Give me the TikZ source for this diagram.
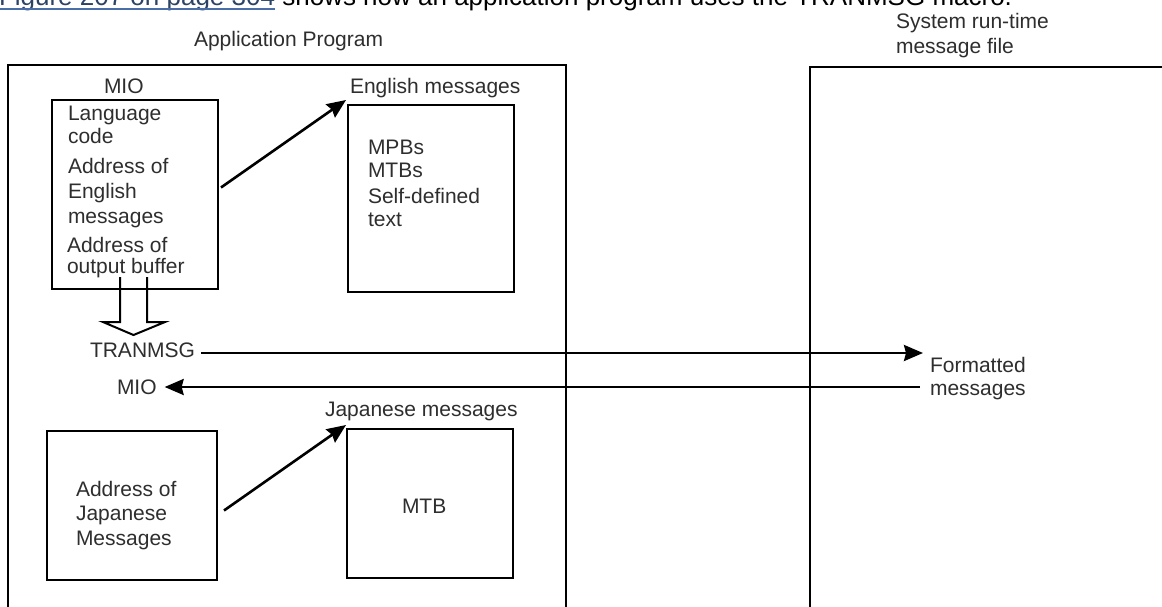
\documentclass[tikz,border=0pt]{standalone}
\usepackage{fontspec}
\setmainfont{Liberation Sans}
\usetikzlibrary{arrows.meta,calc}
\definecolor{linkblue}{HTML}{4A6FA8}
\begin{document}
\begin{tikzpicture}[x=1pt,y=-1pt,
  lbl/.style={inner sep=0pt, outer sep=0pt, anchor=base west, text=black!82, font=\fontsize{21}{25}\selectfont},
  box/.style={draw, line width=2.6pt, anchor=north west, inner sep=0pt, outer sep=0pt},
  arr/.style={line width=2.6pt, -{Stealth[length=19pt,width=16pt,inset=2pt]}},
  hollow/.style={line width=2pt, line join=miter},
  toptext/.style={inner sep=0pt, outer sep=0pt, anchor=base west, font=\fontsize{26}{30}\selectfont},
]
\useasboundingbox (0,0) rectangle (1162,606);
\clip (0,0) rectangle (1162,606);
\fill[white] (0,0) rectangle (1162,606);

% cut-off sentence at the top
\node[toptext, text=linkblue!60!black] (link) at (-1,5) {Figure 207 on page 304};
\node[toptext] (rest) at (link.base east) {\ shows how an application program uses the TRANMSG macro.};
\draw[linkblue, line width=1.5pt] ([yshift=-4pt]link.base west) -- ([yshift=-4pt]link.base east);

% titles
\node[lbl] (apptitle) at (194,46) {Application Program};
\node[lbl] (sys1) at (896,28) {System run-time};
\node[lbl] (sys2) at (896,53) {message file};

% boxes
\node[box, minimum width=558, minimum height=620] (app) at (8,65) {};
\node[box, minimum width=420, minimum height=620] (sys) at (810,67) {};
\node[box, minimum width=166, minimum height=189] (mio) at (52,100) {};
\node[box, minimum width=166, minimum height=187] (eng) at (348,105) {};
\node[box, minimum width=170, minimum height=149] (jadr) at (47,431) {};
\node[box, minimum width=166, minimum height=149] (jap) at (347,429) {};

% MIO box contents
\node[lbl] (miolbl) at (104,93) {MIO};
\node[lbl] (m1) at (68,120) {Language};
\node[lbl] (m2) at (68,143) {code};
\node[lbl] (m3) at (68,173) {Address of};
\node[lbl] (m4) at (68,198) {English};
\node[lbl] (m5) at (68,223) {messages};
\node[lbl] (m6) at (67,252) {Address of};
\node[lbl] (m7) at (67,273) {output buffer};

% English messages
\node[lbl] (englbl) at (350,93) {English messages};
\node[lbl] (e1) at (368,154) {MPBs};
\node[lbl] (e2) at (368,177) {MTBs};
\node[lbl] (e3) at (368,203) {Self-defined};
\node[lbl] (e4) at (368,226) {text};

% middle labels
\node[lbl] (tran) at (90,357) {TRANMSG};
\node[lbl] (mio2) at (117,394) {MIO};
\node[lbl] (fmt1) at (930,372) {Formatted};
\node[lbl] (fmt2) at (930,395) {messages};

% Japanese
\node[lbl] (japlbl) at (325,416) {Japanese messages};
\node[lbl] (j1) at (76,496) {Address of};
\node[lbl] (j2) at (76,520) {Japanese};
\node[lbl] (j3) at (76,545) {Messages};
\node[lbl] (mtb) at (402,513) {MTB};

% connectors
\draw[arr] ([shift={(3,-7)}]mio.east) -- ([shift={(-2,-5)}]eng.north west);
\draw[arr] ([shift={(7,5)}]jadr.east) -- ([shift={(-1,-4)}]jap.north west);

\coordinate (fmtin) at ([shift={(-7,-19)}]fmt1.base west);
\coordinate (fmtout) at ([shift={(-10,-8)}]fmt2.base west);
\draw[arr] ([shift={(6,-4)}]tran.base east) -- (fmtin);
\draw[arr] (fmtout) -- ([shift={(8,-7)}]mio2.base east);

% hollow block arrow
\draw[hollow] ([shift={(-15,-12)}]mio.south) -- ++(0,45) -- ++(-17,0) -- ++(30.5,13)
  -- ++(31.5,-13) -- ++(-18,0) -- ++(0,-45);
\end{tikzpicture}
\end{document}
